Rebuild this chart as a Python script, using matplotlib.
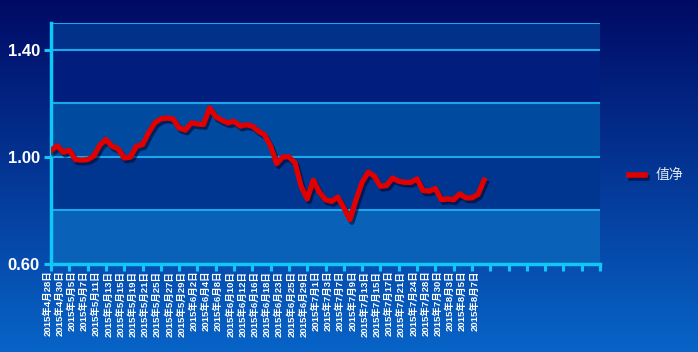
import matplotlib.pyplot as plt
import matplotlib.patheffects as pe
import numpy as np

plt.rcParams['font.family'] = ['Liberation Sans', 'Noto Sans CJK SC']

dates = ["4月28日", "4月29日", "4月30日", "5月4日", "5月5日", "5月6日", "5月7日", "5月8日",
         "5月11日", "5月12日", "5月13日", "5月14日", "5月15日", "5月18日", "5月19日", "5月20日",
         "5月21日", "5月22日", "5月25日", "5月26日", "5月27日", "5月28日", "5月29日", "6月1日",
         "6月2日", "6月3日", "6月4日", "6月5日", "6月8日", "6月9日", "6月10日", "6月11日",
         "6月12日", "6月15日", "6月16日", "6月17日", "6月18日", "6月19日", "6月23日", "6月24日",
         "6月25日", "6月26日", "6月29日", "6月30日", "7月1日", "7月2日", "7月3日", "7月6日",
         "7月7日", "7月8日", "7月9日", "7月10日", "7月13日", "7月14日", "7月15日", "7月16日",
         "7月17日", "7月20日", "7月21日", "7月22日", "7月24日", "7月27日", "7月28日", "7月29日",
         "7月30日", "7月31日", "8月3日", "8月4日", "8月5日", "8月6日", "8月7日", "8月10日"]
dates = ["2015年" + d for d in dates]

nav = [1.024, 1.042, 1.017, 1.025, 0.990, 0.988, 0.990, 1.003, 1.044, 1.065,
       1.040, 1.030, 0.996, 0.999, 1.040, 1.046, 1.090, 1.127, 1.142, 1.145,
       1.142, 1.108, 1.100, 1.127, 1.123, 1.121, 1.183, 1.150, 1.137, 1.127,
       1.133, 1.115, 1.120, 1.115, 1.096, 1.083, 1.040, 0.975, 1.000, 1.000,
       0.978, 0.890, 0.843, 0.913, 0.868, 0.840, 0.834, 0.850, 0.810, 0.766,
       0.840, 0.905, 0.943, 0.928, 0.890, 0.893, 0.921, 0.909, 0.905, 0.905,
       0.918, 0.874, 0.872, 0.882, 0.840, 0.843, 0.840, 0.862, 0.847, 0.847,
       0.860, 0.913]

n_slots = 90
yticks = [0.6, 0.8, 1.0, 1.2, 1.4]

fig = plt.figure(figsize=(6.98, 3.52), dpi=100)

# background gradient
bg = fig.add_axes([0, 0, 1, 1], zorder=-10)
grad = np.linspace(0, 1, 256).reshape(-1, 1)
top = np.array([0, 10, 100]) / 255
bot = np.array([8, 100, 200]) / 255
img = top + (bot - top) * grad[:, :, None]
bg.imshow(img, aspect='auto', extent=[0, 1, 0, 1])
bg.axis('off')

ax = fig.add_axes([51/698, 1 - 264/352, 549/698, 241/352])
ax.set_facecolor('none')

band_colors = ['#0a62b8', '#00368f', '#004a9f', '#011e7e', '#02318a']
edges = yticks + [1.5]
for i in range(5):
    ax.axhspan(edges[i], edges[i+1], color=band_colors[i], zorder=0, lw=0)
for y in [0.8, 1.0, 1.2, 1.4, 1.5]:
    ax.axhline(y, color='#1aa8ec', lw=1.5, zorder=1)

x = np.arange(len(nav))
ax.plot(x, nav, color='#e00000', lw=3.8, solid_joinstyle='round', zorder=3,
        path_effects=[pe.SimpleLineShadow(offset=(1.5, -2), shadow_color='#000830', alpha=0.6),
                      pe.Normal()])

ax.set_xlim(0, n_slots)
ax.set_ylim(0.6, 1.5)

for s in ['top', 'right']:
    ax.spines[s].set_visible(False)
for s in ['left', 'bottom']:
    ax.spines[s].set_color('#10c8f8')
    ax.spines[s].set_linewidth(2.5)

ax.set_xticks(np.arange(0, n_slots + 1, 3))
ax.set_xticklabels([])
ax.tick_params(axis='x', length=5, width=2.2, color='#10c8f8', direction='out')

ax.set_yticks([0.6, 1.0, 1.4])
ax.set_yticklabels(['0.60', '1.00', '1.40'], fontsize=12, fontweight='bold', color='white')
ax.tick_params(axis='y', length=5, width=2.2, color='#10c8f8', direction='out', pad=3)

for i in range(0, len(dates), 2):
    ax.text(i + 0.2, 0.6 - 0.025, dates[i], rotation=90, ha='right', va='top',
            fontsize=6.8, fontweight='bold', color='white', zorder=4)

# legend
fig.lines.append(plt.Line2D([629/698, 645/698], [1 - 175/352] * 2, transform=fig.transFigure,
                            color='#e00000', lw=4,
                            path_effects=[pe.SimpleLineShadow(offset=(1.5, -2), shadow_color='#000830', alpha=0.6),
                                          pe.Normal()]))
fig.text(656/698, 1 - 175/352, '值净', fontsize=10, color='#e0e6f0', va='center', ha='left')

fig.savefig('out.png', dpi=100)
